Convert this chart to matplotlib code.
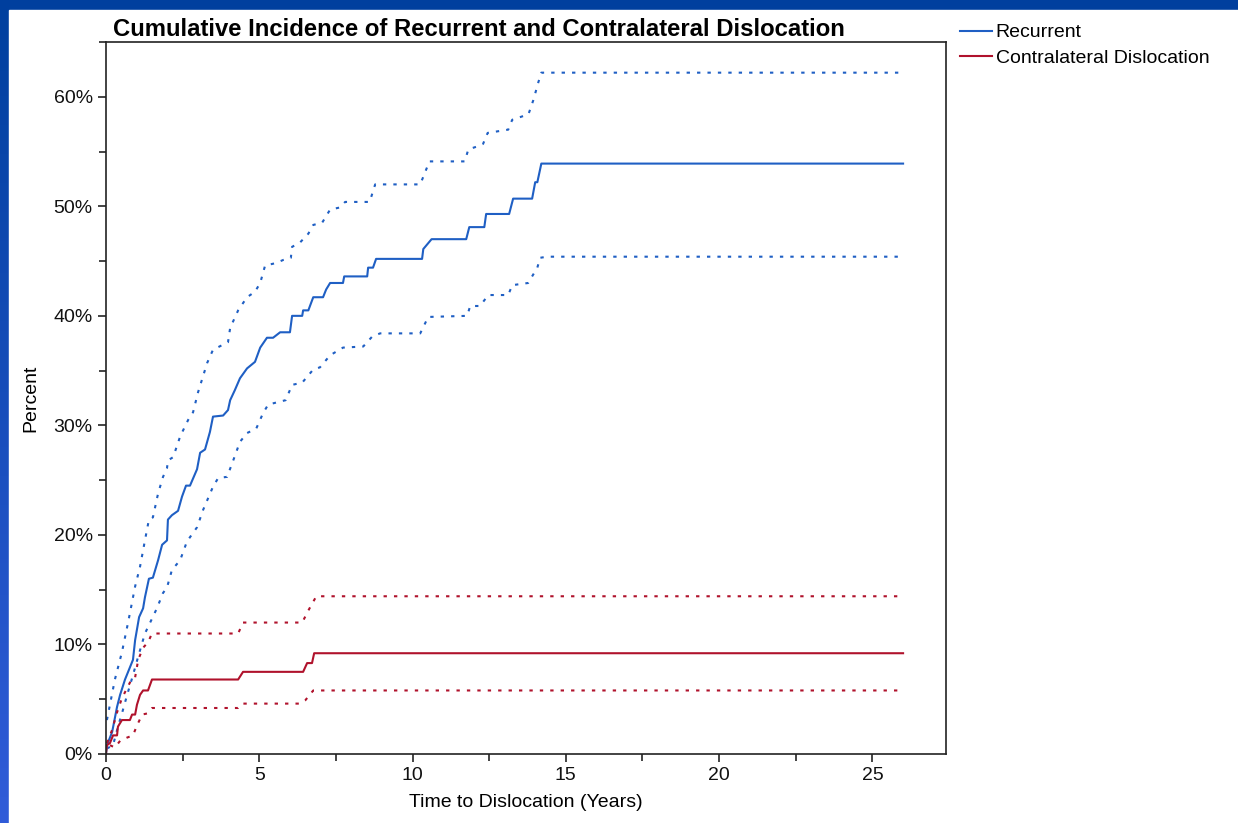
import numpy as np
import matplotlib
matplotlib.use("Agg")
import matplotlib.pyplot as plt
from matplotlib.ticker import MultipleLocator, FuncFormatter

plt.rcParams['font.family'] = ['Liberation Sans', 'DejaVu Sans']

# Recurrent dislocation: cumulative incidence (%) and 95% limits
rec_t = [0, 0.03, 0.2, 0.36, 0.46, 0.62, 0.88, 0.95, 1.08, 1.21, 1.27, 1.4, 1.53, 1.7, 1.83,
         1.99, 2.02, 2.15, 2.35, 2.48, 2.61, 2.74, 2.97, 3.07, 3.23, 3.39, 3.49, 3.82, 3.98,
         4.05, 4.2, 4.37, 4.6, 4.86, 5.03, 5.25, 5.45, 5.68, 6.0, 6.07, 6.4, 6.43, 6.6, 6.76,
         7.08, 7.18, 7.31, 7.73, 7.77, 8.52, 8.55, 8.71, 8.81, 10.31, 10.35, 10.62, 11.75,
         11.85, 12.34, 12.4, 13.15, 13.28, 13.9, 14.0, 14.07, 14.2, 26.0]
rec_v = [0, 0.8, 2.0, 4.3, 5.4, 6.8, 8.6, 10.4, 12.5, 13.3, 14.3, 16.0, 16.1, 17.7, 19.1,
         19.5, 21.4, 21.8, 22.2, 23.5, 24.5, 24.5, 26.0, 27.5, 27.8, 29.4, 30.8, 30.9, 31.4,
         32.3, 33.2, 34.3, 35.2, 35.8, 37.1, 38.0, 38.0, 38.5, 38.5, 40.0, 40.0, 40.5, 40.5, 41.7,
         41.7, 42.4, 43.0, 43.0, 43.6, 43.6, 44.4, 44.4, 45.2, 45.2, 46.1, 47.0, 47.0,
         48.1, 48.1, 49.3, 49.3, 50.7, 50.7, 52.2, 52.2, 53.9, 53.9]

rec_up_t = [0.03, 0.29, 0.52, 0.72, 0.95, 1.11, 1.27, 1.4, 1.53, 1.7, 1.86, 1.99, 2.02, 2.19,
            2.42, 2.68, 2.84, 3.0, 3.3, 3.49, 3.98, 4.05, 4.31, 4.6, 4.86, 5.03, 5.19, 5.52,
            5.78, 6.03, 6.07, 6.33, 6.6, 6.76, 7.05, 7.31, 7.64, 7.8, 8.6, 8.78, 10.25, 10.55,
            11.7, 11.82, 12.15, 12.3, 12.45, 13.12, 13.25, 13.78, 13.94, 14.1, 14.2, 26.0]
rec_up_v = [3.1, 6.8, 9.3, 12.0, 15.3, 17.1, 19.5, 21.4, 21.6, 23.8, 25.3, 26.1, 26.8, 27.1,
            29.0, 30.5, 31.2, 33.0, 35.7, 36.9, 37.6, 38.9, 40.5, 41.7, 42.2, 43.0, 44.6, 44.8,
            45.1, 45.3, 46.3, 46.7, 47.5, 48.3, 48.5, 49.7, 49.9, 50.4, 50.4, 52.0, 52.0, 54.1,
            54.1, 55.2, 55.5, 55.7, 56.7, 57.0, 57.9, 58.4, 59.7, 61.3, 62.2, 62.2]

rec_lo_t = [0.03, 0.23, 0.39, 0.52, 0.69, 0.88, 1.05, 1.27, 1.44, 1.66, 1.86, 1.99, 2.15, 2.42,
            2.64, 2.97, 3.17, 3.49, 3.66, 3.95, 4.15, 4.37, 4.6, 4.9, 5.12, 5.29, 5.86, 6.07,
            6.4, 6.76, 6.98, 7.31, 7.73, 8.39, 8.68, 8.94, 10.25, 10.51, 11.78, 11.88, 12.2,
            12.47, 13.12, 13.25, 13.77, 14.07, 14.16, 14.39, 26.0]
rec_lo_v = [0.5, 0.8, 2.5, 3.7, 5.4, 7.2, 8.9, 11.0, 12.0, 13.3, 14.7, 15.2, 16.8, 17.7,
            19.4, 20.7, 22.3, 24.4, 25.2, 25.3, 26.8, 28.5, 29.3, 29.7, 31.1, 31.9, 32.3, 33.7,
            33.9, 35.1, 35.3, 36.4, 37.1, 37.2, 38.1, 38.4, 38.4, 39.9, 40.0, 40.9, 40.9,
            41.9, 41.9, 42.8, 43.0, 44.4, 45.3, 45.4, 45.4]

# Contralateral dislocation
con_t = [0, 0.03, 0.13, 0.23, 0.36, 0.39, 0.52, 0.78, 0.85, 0.95, 1.01, 1.11, 1.21, 1.37,
         1.5, 4.31, 4.47, 6.43, 6.56, 6.72, 6.79, 26.0]
con_v = [0, 0.8, 1.0, 1.7, 1.7, 2.5, 3.1, 3.1, 3.6, 3.6, 4.5, 5.4, 5.8, 5.8,
         6.8, 6.8, 7.5, 7.5, 8.3, 8.3, 9.2, 9.2]

con_up_t = [0.03, 0.2, 0.36, 0.52, 0.85, 0.95, 1.05, 1.21, 1.37, 1.5, 4.31, 4.47, 6.4, 6.6,
            6.86, 26.0]
con_up_v = [1.0, 2.2, 3.8, 5.1, 6.9, 7.0, 8.6, 9.7, 10.2, 11.0, 11.0, 12.0, 12.0, 13.1,
            14.4, 14.4]

con_lo_t = [0.13, 0.29, 0.46, 0.69, 0.88, 1.01, 1.18, 1.34, 1.5, 4.31, 4.44, 6.33, 6.5,
            6.76, 26.0]
con_lo_v = [0.8, 0.6, 1.2, 1.5, 1.7, 2.6, 3.6, 3.7, 4.2, 4.2, 4.6, 4.6, 4.9, 5.8, 5.8]

blue = '#1F5FC4'
red = '#B0122C'
dots = (1.6, 3.4)

W, H = 1238, 823
fig = plt.figure(figsize=(W / 100, H / 100), dpi=100)

# slide background: blue bands on top and left, white canvas
bg = fig.add_axes([0, 0, 1, 1], zorder=-2)
grad = np.linspace(0, 1, 256)[:, None]
top_c = np.array([0.0, 0.25, 0.62])
bot_c = np.array([0.19, 0.36, 0.85])
img = top_c + (bot_c - top_c) * grad[:, :, None]
bg.imshow(img, aspect='auto', extent=[0, 1, 0, 1], origin='upper')
bg.add_patch(plt.Rectangle((9 / W, 0), 1, 1 - 10 / H, color='white'))
bg.set_xlim(0, 1)
bg.set_ylim(0, 1)
bg.axis('off')

ax = fig.add_axes([106 / W, 69 / H, 840 / W, 712 / H])
ax.plot(rec_t, rec_v, color=blue, lw=1.5, label='Recurrent')
ax.plot(rec_up_t, rec_up_v, color=blue, lw=1.5, dashes=dots)
ax.plot(rec_lo_t, rec_lo_v, color=blue, lw=1.5, dashes=dots)
ax.plot(con_t, con_v, color=red, lw=1.5, label='Contralateral Dislocation')
ax.plot(con_up_t, con_up_v, color=red, lw=1.5, dashes=dots)
ax.plot(con_lo_t, con_lo_v, color=red, lw=1.5, dashes=dots)

ax.set_xlim(0, 27.4)
ax.set_ylim(0, 65)
ax.xaxis.set_major_locator(MultipleLocator(5))
ax.xaxis.set_minor_locator(MultipleLocator(2.5))
ax.yaxis.set_major_locator(MultipleLocator(10))
ax.yaxis.set_minor_locator(MultipleLocator(5))
ax.yaxis.set_major_formatter(FuncFormatter(lambda v, p: f'{v:.0f}%'))
ax.tick_params(which='both', direction='out', width=1.1, labelsize=14, colors='#111111')
ax.tick_params(which='major', length=6)
ax.tick_params(which='minor', length=5)
for s in ax.spines.values():
    s.set_linewidth(1.2)
    s.set_color('#222222')

ax.set_xlabel('Time to Dislocation (Years)', fontsize=14, labelpad=7)
ax.set_ylabel('Percent', fontsize=14, labelpad=10)

fig.text(113 / W, 1 - 36 / H, 'Cumulative Incidence of Recurrent and Contralateral Dislocation',
         fontsize=17.2, fontweight='bold', ha='left', va='baseline')

fig.legend(loc='upper left', bbox_to_anchor=(952 / W, 1 - 16 / H), frameon=False,
           fontsize=14, handlelength=1.65, handletextpad=0.2, labelspacing=0.4,
           borderaxespad=0)

fig.savefig('out.png', dpi=100)
